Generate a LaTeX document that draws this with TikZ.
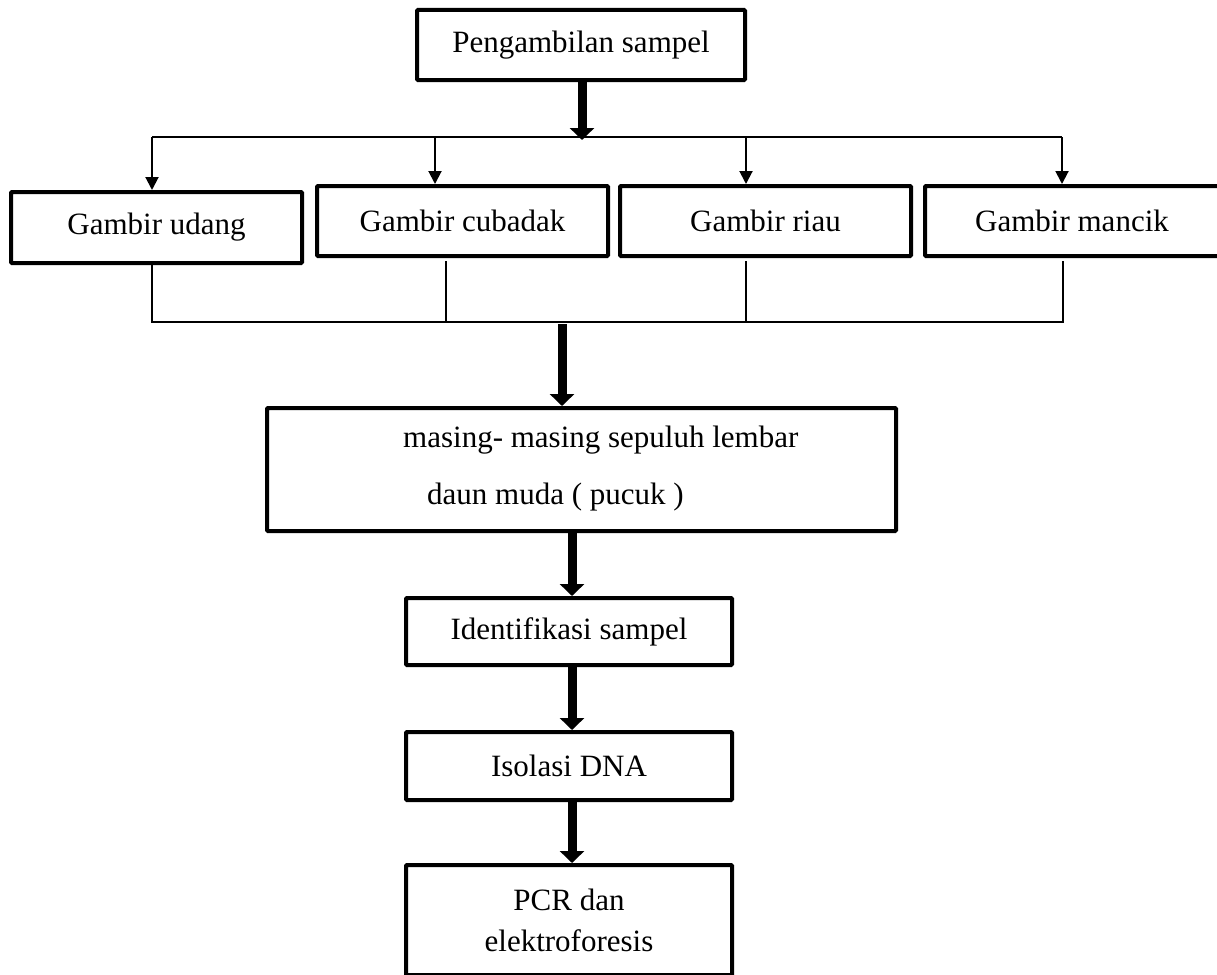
\documentclass[tikz,border=0pt]{standalone}
\usepackage{fontspec}
\setmainfont{Liberation Serif}
\usetikzlibrary{arrows.meta}
\begin{document}
\begin{tikzpicture}[x=1pt,y=1pt,
 box/.style={draw, line width=4pt, rounded corners=1pt, font=\fontsize{31}{41}\selectfont, inner sep=0pt, align=center},
 thickarr/.style={line width=9pt, -{Triangle[width=24pt,length=12pt]}},
 thinarr/.style={line width=2pt, -{Triangle[width=13pt,length=13pt]}},
 thinline/.style={line width=2pt},
 txt/.style={font=\fontsize{31}{37}\selectfont, inner sep=0pt}]
\useasboundingbox (0,0) rectangle (1217,-974);
% boxes
\node[box, minimum width=328, minimum height=70] (top) at (581,-45) {Pengambilan sampel};
\node[box, minimum width=291, minimum height=71] (udang) at (156.5,-227.5) {Gambir udang};
\node[box, minimum width=291, minimum height=70] (cubadak) at (462.5,-221) {Gambir cubadak};
\node[box, minimum width=291, minimum height=70] (riau) at (765.5,-221) {Gambir riau};
\node[box, minimum width=294, minimum height=70] (mancik) at (1072,-221) {Gambir mancik};
\node[box, minimum width=629, minimum height=123] (mas) at (581.5,-469.5) {};
\node[txt, anchor=west] (mas1) at (403,-440) {masing- masing sepuluh lembar};
\node[txt, anchor=west] (mas2) at (427,-497) {daun muda ( pucuk )};
\node[box, minimum width=326, minimum height=67] (ident) at (569,-631.5) {Identifikasi sampel};
\node[box, minimum width=326, minimum height=68] (iso) at (569,-766) {Isolasi DNA};
\node[box, minimum width=326, minimum height=110] (pcr) at (569,-920) {PCR dan\\elektroforesis};
% top split
\coordinate (s) at (582,-140);
\draw[thickarr] (top.south -| s) -- (s);
\coordinate (b1) at (152,-137);
\coordinate (b2) at (435,-137);
\coordinate (b3) at (746,-137);
\coordinate (b4) at (1062,-137);
\draw[thinline] (b1) -- (b4);
\draw[thinarr] (b1) -- (b1 |- udang.north);
\draw[thinarr] (b2) -- (b2 |- cubadak.north);
\draw[thinarr] (b3) -- (b3 |- riau.north);
\draw[thinarr] (b4) -- (b4 |- mancik.north);
% bottom merge
\coordinate (c1) at (152,-322);
\coordinate (c2) at (446,-322);
\coordinate (c3) at (746,-322);
\coordinate (c4) at (1063,-322);
\draw[thinline] (udang.south -| c1) -- (c1) -- (c4) -- ([yshift=-3pt]mancik.south -| c4);
\draw[thinline] ([yshift=-3pt]cubadak.south -| c2) -- (c2);
\draw[thinline] ([yshift=-3pt]riau.south -| c3) -- (c3);
% thick arrows down
\coordinate (m) at (562,-324);
\draw[thickarr] (m) -- (m |- mas.north);
\coordinate (k) at (572,0);
\draw[thickarr] (mas.south -| k) -- (ident.north -| k);
\draw[thickarr] (ident.south -| k) -- (iso.north -| k);
\draw[thickarr] (iso.south -| k) -- (pcr.north -| k);
\end{tikzpicture}
\end{document}
